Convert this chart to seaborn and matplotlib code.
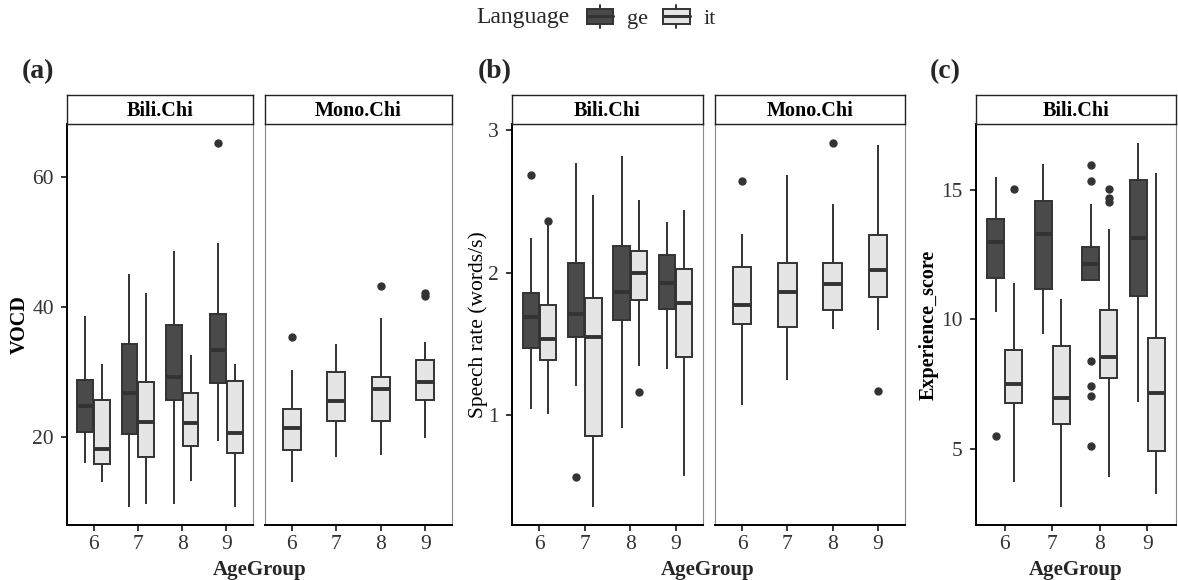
import matplotlib
matplotlib.use("Agg")
import numpy as np
import pandas as pd
import seaborn as sns
import matplotlib.pyplot as plt
from matplotlib.legend_handler import HandlerBase
from matplotlib.patches import Rectangle, Patch
from matplotlib.lines import Line2D

# ---------------- data ----------------
AGES = ["6", "7", "8", "9"]
LANGS = ["ge", "it"]

# five-number summaries per age group: [lower whisker, Q1, median, Q3, upper whisker]
vocd_bili_ge = [[16.1, 20.8, 24.8, 28.8, 38.6], [9.3, 20.5, 26.8, 34.3, 45.1],
                [9.8, 25.7, 29.2, 37.2, 48.6], [19.4, 28.3, 33.5, 39.0, 49.9]]
vocd_bili_ge_out = [[], [], [], [65.3]]
vocd_bili_it = [[13.1, 15.9, 18.2, 25.7, 31.3], [9.7, 17.0, 22.4, 28.5, 42.2],
                [13.2, 18.7, 22.2, 26.8, 32.6], [9.2, 17.6, 20.6, 28.7, 31.3]]
vocd_bili_it_out = [[], [], [], []]
vocd_mono_it = [[13.1, 18.0, 21.4, 24.3, 30.4], [17.0, 22.5, 25.6, 30.1, 34.4],
                [17.2, 22.5, 27.5, 29.2, 38.4], [19.85, 25.7, 28.5, 31.9, 34.7]]
vocd_mono_it_out = [[35.5], [], [43.3], [41.7, 42.2]]

rate_bili_ge = [[1.041, 1.472, 1.689, 1.86, 2.242], [1.204, 1.549, 1.713, 2.07, 2.77],
                [0.908, 1.671, 1.864, 2.186, 2.814], [1.323, 1.743, 1.927, 2.126, 2.354]]
rate_bili_ge_out = [[2.686], [0.565], [], []]
rate_bili_it = [[1.008, 1.39, 1.533, 1.775, 2.345], [0.355, 0.857, 1.549, 1.825, 2.541],
                [1.346, 1.806, 2.0, 2.149, 2.511], [0.577, 1.405, 1.79, 2.028, 2.436]]
rate_bili_it_out = [[2.362], [], [1.164], []]
rate_mono_it = [[1.071, 1.643, 1.776, 2.039, 2.268], [1.246, 1.615, 1.864, 2.067, 2.681],
                [1.601, 1.741, 1.923, 2.067, 2.483], [1.596, 1.829, 2.016, 2.261, 2.891]]
rate_mono_it_out = [[2.64], [], [2.907], [1.17]]

exp_bili_ge = [[10.29, 11.61, 12.98, 13.88, 15.52], [9.42, 11.17, 13.30, 14.59, 16.01],
               [11.5, 11.52, 12.13, 12.81, 14.46], [6.81, 10.91, 13.16, 15.39, 16.81]]
exp_bili_ge_out = [[5.48], [], [5.1, 7.04, 7.43, 8.39, 15.35, 15.97], []]
exp_bili_it = [[3.69, 6.75, 7.5, 8.81, 11.42], [2.72, 5.93, 6.96, 8.97, 10.79],
               [3.88, 7.74, 8.55, 10.36, 13.48], [3.24, 4.9, 7.16, 9.29, 15.65]]
exp_bili_it_out = [[15.03], [], [14.55, 14.68, 15.04], []]

GE_COLOR = "#4a4a4a"
IT_COLOR = "#e5e5e5"
LINE_COLOR = "#333333"


def sample_from_summary(summary, outliers):
    """Observations whose quartiles / whiskers / outliers equal the read values."""
    lo, q1, med, q3, hi = summary
    low = sorted(v for v in outliers if v < q1)
    high = sorted(v for v in outliers if v > q3)
    k = max(len(low), len(high)) + 1
    vals = (low + [lo] * (k - len(low)) + [q1] + [q1] * (k - 1) + [med]
            + [med] * (k - 1) + [q3] + [hi] * (k - len(high)) + high)
    return vals


def make_df(stats, outs, measure, group, lang):
    rows = []
    for age, s, o in zip(AGES, stats, outs):
        for v in sample_from_summary(s, o):
            rows.append(dict(measure=measure, group=group, AgeGroup=age,
                             Language=lang, value=v))
    return rows


rows = []
rows += make_df(vocd_bili_ge, vocd_bili_ge_out, "vocd", "Bili.Chi", "ge")
rows += make_df(vocd_bili_it, vocd_bili_it_out, "vocd", "Bili.Chi", "it")
rows += make_df(vocd_mono_it, vocd_mono_it_out, "vocd", "Mono.Chi", "it")
rows += make_df(rate_bili_ge, rate_bili_ge_out, "rate", "Bili.Chi", "ge")
rows += make_df(rate_bili_it, rate_bili_it_out, "rate", "Bili.Chi", "it")
rows += make_df(rate_mono_it, rate_mono_it_out, "rate", "Mono.Chi", "it")
rows += make_df(exp_bili_ge, exp_bili_ge_out, "exp", "Bili.Chi", "ge")
rows += make_df(exp_bili_it, exp_bili_it_out, "exp", "Bili.Chi", "it")
df = pd.DataFrame(rows)

# ---------------- figure ----------------
sns.set_theme(style="white")
plt.rcParams['font.family'] = ['Liberation Serif', 'DejaVu Serif']

W, H = 1178, 580
fig = plt.figure(figsize=(W / 100, H / 100), dpi=100)


def px_axes(x0, x1, y0, y1):
    return fig.add_axes([x0 / W, 1 - y1 / H, (x1 - x0) / W, (y1 - y0) / H])


PANEL_TOP, PANEL_BOT, STRIP_TOP = 124, 525, 95

flierprops = dict(marker='o', markerfacecolor=LINE_COLOR, markeredgecolor=LINE_COLOR,
                  markersize=5)
medianprops = dict(linewidth=2.8, color=LINE_COLOR)

panels = [
    # measure, group, x0, x1, ylim, yticks, ylabel, show y, label x, bold label
    ("vocd", "Bili.Chi", 67, 253, (6.5, 68.2), [20, 40, 60], "VOCD", True, 30, "bold"),
    ("vocd", "Mono.Chi", 265, 452, (6.5, 68.2), [20, 40, 60], None, False, 0, None),
    ("rate", "Bili.Chi", 512, 703, (0.232, 3.04), [1, 2, 3], "Speech rate (words/s)", True, 488, "normal"),
    ("rate", "Mono.Chi", 715, 905, (0.232, 3.04), [1, 2, 3], None, False, 0, None),
    ("exp", "Bili.Chi", 976, 1176, (2.04, 17.56), [5, 10, 15], "Experience_score", True, 939, "bold"),
]

for measure, group, x0, x1, ylim, yticks, ylabel, showy, labx, labw in panels:
    ax = px_axes(x0, x1, PANEL_TOP, PANEL_BOT)
    sub = df[(df.measure == measure) & (df.group == group)]
    common = dict(data=sub, x="AgeGroup", y="value", order=AGES, saturation=1,
                  linewidth=1.4, linecolor=LINE_COLOR, fliersize=5,
                  flierprops=flierprops, medianprops=medianprops, showcaps=False, ax=ax)
    if group == "Bili.Chi":
        sns.boxplot(hue="Language", hue_order=LANGS,
                    palette={"ge": GE_COLOR, "it": IT_COLOR},
                    width=0.76, gap=0.06, legend=False, **common)
    else:
        sns.boxplot(color=IT_COLOR, width=0.41, **common)
    ax.set_xlim(-0.6, 3.6)
    ax.set_ylim(*ylim)
    ax.set_yticks(yticks)
    ax.set_xlabel("")
    ax.set_ylabel("")
    ax.grid(False)
    ax.set_facecolor("white")
    for sp in ["top", "right"]:
        ax.spines[sp].set_color("#8a8a8a")
        ax.spines[sp].set_linewidth(0.8)
    ax.spines["bottom"].set_color("black")
    ax.spines["bottom"].set_linewidth(1.4)
    if showy:
        ax.spines["left"].set_color("black")
        ax.spines["left"].set_linewidth(1.4)
    else:
        ax.spines["left"].set_color("#8a8a8a")
        ax.spines["left"].set_linewidth(0.8)
    ax.tick_params(axis="both", which="both", direction="out", length=4.5, width=1.1,
                   color="black", labelsize=15.5, labelcolor="#333333", pad=5,
                   bottom=True, left=showy, labelleft=showy)
    ax.tick_params(axis="x", pad=3)
    if ylabel:
        ax.set_ylabel(ylabel, fontsize=14.5 if labw == "bold" else 15.5,
                      fontweight=labw, color="black")
        ax.yaxis.set_label_coords((labx - x0) / (x1 - x0), 0.5)

    sax = px_axes(x0, x1, STRIP_TOP, PANEL_TOP)
    sax.set_xticks([])
    sax.set_yticks([])
    sax.set_facecolor("white")
    for sp in sax.spines.values():
        sp.set_color("#222222")
        sp.set_linewidth(1.0)
    sax.text(0.5, 0.45, group, ha="center", va="center", fontsize=14.5,
             fontweight="bold", color="black", transform=sax.transAxes)

# panel tags
for tag, x in [("(a)", 22), ("(b)", 478), ("(c)", 930)]:
    fig.text(x / W, 1 - 72 / H, tag, fontsize=20, fontweight="bold", va="center", ha="left")

# x labels
for xc in [259.5, 708, 1076]:
    fig.text(xc / W, 1 - 575 / H, "AgeGroup", fontsize=15, fontweight="bold",
             ha="center", va="baseline")


# legend with box-shaped keys
class BoxKeyHandler(HandlerBase):
    def create_artists(self, legend, orig_handle, xdescent, ydescent, width, height,
                       fontsize, trans):
        x0, y0 = -xdescent, -ydescent
        fc = orig_handle.get_facecolor()
        bh = height * 0.75
        by = y0 + (height - bh) / 2
        rect = Rectangle((x0, by), width, bh, facecolor=fc, edgecolor=LINE_COLOR,
                         linewidth=1.4, transform=trans)
        med = Line2D([x0, x0 + width], [y0 + height / 2] * 2, color=LINE_COLOR,
                     linewidth=2.2, transform=trans)
        wtop = Line2D([x0 + width / 2] * 2, [by + bh, y0 + height * 1.12],
                      color=LINE_COLOR, linewidth=1.4, transform=trans)
        wbot = Line2D([x0 + width / 2] * 2, [by, y0 - height * 0.12],
                      color=LINE_COLOR, linewidth=1.4, transform=trans)
        return [rect, med, wtop, wbot]


handles = [Patch(facecolor=GE_COLOR), Patch(facecolor=IT_COLOR)]
fig.legend(handles, LANGS, loc="center", bbox_to_anchor=(651 / W, 1 - 18 / H), ncol=2,
           frameon=False, fontsize=16, handlelength=1.2, handleheight=0.95,
           handletextpad=0.6, columnspacing=0.7,
           handler_map={Patch: BoxKeyHandler()})
fig.text(570 / W, 1 - 18 / H, "Language", fontsize=17, ha="right", va="center")

fig.savefig("out.png", dpi=100, facecolor="white")
